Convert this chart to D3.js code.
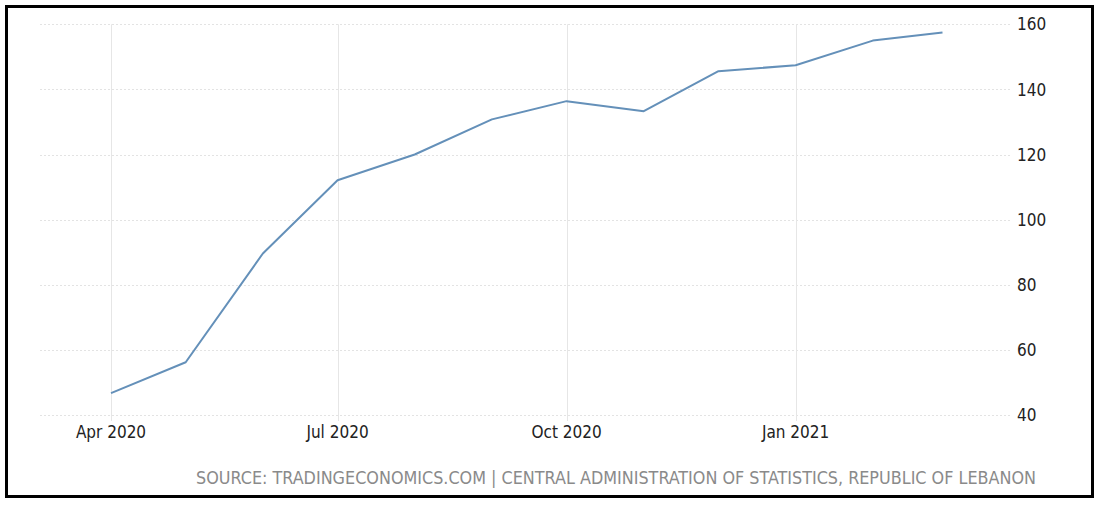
<!DOCTYPE html>
<html><head><meta charset="utf-8">
<script src="https://cdn.jsdelivr.net/npm/d3@7"></script>
<style>
html,body{margin:0;padding:0;background:#fff;}
svg{display:block;}
text{font-family:'DejaVu Sans Condensed','DejaVu Sans',sans-serif;}
</style></head>
<body>
<svg id="c" width="1102" height="506"></svg>
<script>
const months = ["2020-04","2020-05","2020-06","2020-07","2020-08","2020-09","2020-10","2020-11","2020-12","2021-01","2021-02","2021-03"];
const values = [46.7,56.2,89.6,112.1,120.0,130.8,136.4,133.3,145.6,147.4,155.0,157.5];
const yTicks = [40,60,80,100,120,140,160];
const xTicks = ["2020-04","2020-07","2020-10","2021-01"];
const xTickLabels = ["Apr 2020","Jul 2020","Oct 2020","Jan 2021"];
const sourceText = "SOURCE: TRADINGECONOMICS.COM | CENTRAL ADMINISTRATION OF STATISTICS, REPUBLIC OF LEBANON";

const parse = d3.timeParse("%Y-%m");
const svg = d3.select("#c");

// frame
svg.append("rect").attr("x",6.5).attr("y",6.5).attr("width",1086).attr("height",490)
  .attr("fill","#fff").attr("stroke","#000").attr("stroke-width",3);

const x = d3.scaleTime().domain([parse(months[0]), parse(months[months.length-1])]).range([111, 942.5]);
const y = d3.scaleLinear().domain([40,160]).range([415, 24.3]);
const gridL = 40, gridR = 1012;

// horizontal grid
svg.append("g").selectAll("line").data(yTicks).join("line")
  .attr("x1",gridL).attr("x2",gridR)
  .attr("y1",d=>Math.round(y(d))+0.5).attr("y2",d=>Math.round(y(d))+0.5)
  .attr("stroke","#e3e3e3").attr("stroke-width",1).attr("stroke-dasharray","2,2");

// vertical grid
svg.append("g").selectAll("line").data(xTicks).join("line")
  .attr("x1",d=>Math.round(x(parse(d)))+0.5).attr("x2",d=>Math.round(x(parse(d)))+0.5)
  .attr("y1",y(160)).attr("y2",y(40)+6)
  .attr("stroke","#e6e6e6").attr("stroke-width",1);

// y labels (right)
svg.append("g").selectAll("text").data(yTicks).join("text")
  .attr("x",1017).attr("y",d=>y(d)).attr("dy","0.36em")
  .attr("font-size",17).attr("fill","#222").text(d=>d);

// x labels
svg.append("g").selectAll("text").data(xTicks).join("text")
  .attr("x",d=>x(parse(d))).attr("y",438)
  .attr("text-anchor","middle").attr("font-size",17).attr("fill","#222")
  .text((d,i)=>xTickLabels[i]);

// line
const line = d3.line().x((d,i)=>x(parse(months[i]))).y(d=>y(d));
svg.append("path").datum(values).attr("d",line)
  .attr("fill","none").attr("stroke","#6490b9").attr("stroke-width",2)
  .attr("stroke-linejoin","round");

// source
svg.append("text").attr("x",196).attr("y",484)
  .attr("font-size",17.5).attr("fill","#8a8a8a")
  .attr("textLength",840).attr("lengthAdjust","spacingAndGlyphs")
  .text(sourceText);
</script>
</body></html>
